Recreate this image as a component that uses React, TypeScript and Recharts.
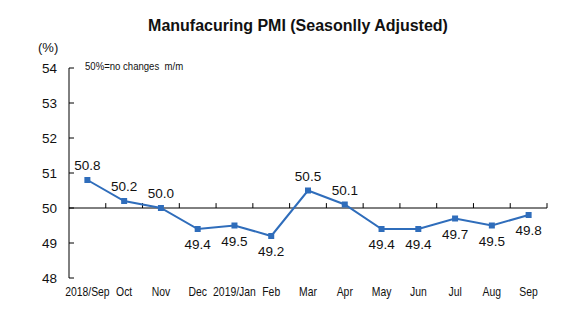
import { LineChart, Line, XAxis, YAxis, ReferenceLine, LabelList } from 'recharts';

// months on the x axis
const months = ['2018/Sep', 'Oct', 'Nov', 'Dec', '2019/Jan', 'Feb', 'Mar', 'Apr', 'May', 'Jun', 'Jul', 'Aug', 'Sep'];
// PMI values
const pmi = [50.8, 50.2, 50.0, 49.4, 49.5, 49.2, 50.5, 50.1, 49.4, 49.4, 49.7, 49.5, 49.8];
const yTicks = [48, 49, 50, 51, 52, 53, 54];
// category boundaries where the small ticks sit on the 50 line
const boundaries = [0.5, 1.5, 2.5, 3.5, 4.5, 5.5, 6.5, 7.5, 8.5, 9.5, 10.5, 11.5, 12.5];

const data = pmi.map((v, i) => ({ idx: i, value: v }));

const BLUE = '#2f6dbb';
const arial = '"Liberation Sans", Arial, sans-serif';

const Square = (props: any) => {
  const { cx, cy } = props;
  if (cx == null || cy == null) return null;
  return <rect x={cx - 3} y={cy - 3} width={6} height={6} fill={BLUE} />;
};

const ValueLabel = (props: any) => {
  const { x, y, value } = props;
  const above = value >= 50;
  return (
    <text x={x} y={above ? y - 10 : y + 20} textAnchor="middle" fontSize={13.5} fontFamily={arial} fill="#111">
      {Number(value).toFixed(1)}
    </text>
  );
};

// condensed month label, like the narrow font in the original
const MonthTick = (props: any) => {
  const { x, y, payload } = props;
  return (
    <g transform={`translate(${x},${y}) scale(0.8,1)`}>
      <text x={0} y={0} dy="0.71em" textAnchor="middle" fontSize={13} fontFamily={arial} fill="#111">
        {months[payload.value]}
      </text>
    </g>
  );
};

// y tick label with a short inward tick mark
const ValueTick = (props: any) => {
  const { x, y, payload } = props;
  return (
    <g>
      <line x1={x + 12} x2={x + 17} y1={y} y2={y} stroke="#000" />
      <text x={x} y={y} dy="0.355em" textAnchor="end" fontSize={13.5} fontFamily={arial} fill="#111">
        {payload.value}
      </text>
    </g>
  );
};

export default function App() {
  return (
    <div style={{ position: 'absolute', left: 0, top: 0, width: 584, height: 328, background: '#fff' }}>
      <div
        style={{
          position: 'absolute',
          left: 0,
          width: 584,
          top: 17,
          textAlign: 'center',
          fontFamily: arial,
          fontWeight: 'bold',
          fontSize: 16,
          color: '#111',
          paddingLeft: 6,
        }}
      >
        Manufacuring PMI (Seasonlly Adjusted)
      </div>
      <div style={{ position: 'absolute', left: 38, top: 40, fontFamily: arial, fontSize: 13, color: '#111' }}>(%)</div>
      <div
        style={{
          position: 'absolute',
          left: 85,
          top: 60,
          fontFamily: arial,
          fontSize: 11,
          color: '#111',
          transform: 'scaleX(0.87)',
          transformOrigin: 'left top',
          whiteSpace: 'nowrap',
        }}
      >
        50%=no changes&nbsp;&nbsp;m/m
      </div>
      <LineChart width={584} height={328} data={data} margin={{ top: 68, right: 37, bottom: 0, left: 29 }}>
        <XAxis
          dataKey="idx"
          type="number"
          domain={[-0.5, 12.5]}
          ticks={data.map((d) => d.idx)}
          interval={0}
          axisLine={false}
          tickLine={false}
          tickSize={0}
          tickMargin={9}
          height={50}
          tick={<MonthTick />}
        />
        <YAxis
          domain={[48, 54]}
          ticks={yTicks}
          width={40}
          interval={0}
          tickSize={0}
          tickMargin={12}
          axisLine={{ stroke: '#000' }}
          tickLine={false}
          tick={<ValueTick />}
        />
        <ReferenceLine y={50} stroke="#000" ifOverflow="visible" />
        {boundaries.map((b) => (
          <ReferenceLine
            key={b}
            segment={[{ x: b, y: 50 }, { x: b, y: 50.14 }]}
            stroke="#000"
            ifOverflow="visible"
          />
        ))}
        <Line
          dataKey="value"
          stroke={BLUE}
          strokeWidth={2}
          dot={<Square />}
          activeDot={false}
          isAnimationActive={false}
        >
          <LabelList dataKey="value" content={<ValueLabel />} />
        </Line>
      </LineChart>
    </div>
  );
}
